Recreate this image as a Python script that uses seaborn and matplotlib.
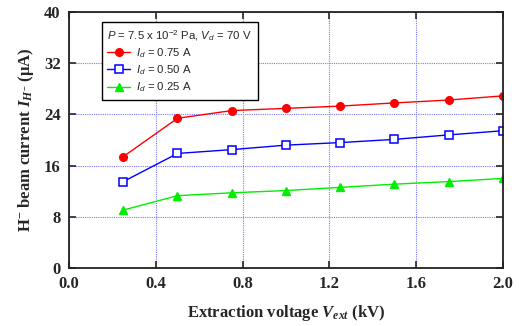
import matplotlib
matplotlib.use("Agg")
import matplotlib.pyplot as plt
import seaborn as sns
import pandas as pd

v_ext = [0.25, 0.5, 0.75, 1.0, 1.25, 1.5, 1.75, 2.0]
i_075 = [17.4, 23.4, 24.6, 24.95, 25.3, 25.8, 26.25, 26.9]
i_050 = [13.5, 17.9, 18.5, 19.2, 19.6, 20.1, 20.8, 21.45]
i_025 = [9.05, 11.3, 11.75, 12.1, 12.6, 13.1, 13.5, 14.0]
series_labels = ["$\\mathsf{I_d}$ = 0.75 A", "$\\mathsf{I_d}$ = 0.50 A", "$\\mathsf{I_d}$ = 0.25 A"]
x_ticks = [0.0, 0.4, 0.8, 1.2, 1.6, 2.0]
y_ticks = [0, 8, 16, 24, 32, 40]

sns.set_style("ticks")
plt.rcParams["font.family"] = ["Liberation Serif", "DejaVu Serif"]
plt.rcParams["mathtext.fontset"] = "custom"
plt.rcParams["mathtext.rm"] = "Liberation Sans"
plt.rcParams["mathtext.sf"] = "Liberation Sans:italic"
plt.rcParams["mathtext.it"] = "Liberation Serif:italic:bold"
plt.rcParams["mathtext.bf"] = "Liberation Serif:bold"

df = pd.DataFrame({
    "V": v_ext * 3,
    "I": i_075 + i_050 + i_025,
    "series": [series_labels[0]] * 8 + [series_labels[1]] * 8 + [series_labels[2]] * 8,
})

fig = plt.figure(figsize=(5.19, 3.26), dpi=100)
ax = fig.add_axes([0.133, 0.178, 0.836, 0.785])

styles = [
    dict(color="#ff0000", marker="o", mfc="#ff0000", mec="#ff0000", ms=5.5),
    dict(color="#0000ff", marker="s", mfc="white", mec="#0000ff", ms=5.5, mew=1.1),
    dict(color="#00ee00", marker="^", mfc="#00ee00", mec="#00ee00", ms=6),
]
for lab, st in zip(series_labels, styles):
    sub = df[df["series"] == lab]
    sns.lineplot(data=sub, x="V", y="I", ax=ax, label=lab, lw=1.0,
                 color=st["color"], marker=st["marker"],
                 markerfacecolor=st["mfc"], markeredgecolor=st["mec"],
                 markersize=st["ms"], markeredgewidth=st.get("mew", 1.0))

ax.set_xlim(0, 2.0)
ax.set_ylim(0, 40)
ax.set_xticks(x_ticks)
ax.set_yticks(y_ticks)
ax.set_xticklabels([f"{t:.1f}" for t in x_ticks], fontweight="bold", fontsize=12)
ax.set_yticklabels([str(t) for t in y_ticks], fontweight="bold", fontsize=12)
ax.grid(True, color="#7878ff", linestyle=(0, (1, 1)), linewidth=0.8)
ax.tick_params(direction="in", length=5, width=1.2, top=True, right=True, pad=6)
for s in ax.spines.values():
    s.set_linewidth(1.3)
    s.set_color("#222222")

ax.set_xlabel("Extraction voltage $\\mathit{V}_{\\mathit{ext}}$ (kV)",
              fontweight="bold", fontsize=12, labelpad=8)
ax.set_ylabel("H$^{-}$ beam current $\\mathit{I}_{\\mathit{H}^{-}}$ ($\\mathbf{\\mu}$A)",
              fontweight="bold", fontsize=12, labelpad=6)

leg = ax.legend(title="$\\mathsf{P}$ = 7.5 x 10$^{-2}$ Pa, $\\mathsf{V_d}$ = 70 V", loc="upper left",
                bbox_to_anchor=(0.075, 0.96), borderaxespad=0, frameon=True, fancybox=False,
                edgecolor="black", framealpha=1, borderpad=0.5, handlelength=2.0,
                handletextpad=0.5, labelspacing=0.3,
                prop={"family": "Liberation Sans", "size": 8.2}, alignment="left")
leg.get_title().set_fontfamily("Liberation Sans")
leg.get_title().set_fontsize(8.2)
leg.get_frame().set_linewidth(1.0)

fig.savefig("out.png", dpi=100)
